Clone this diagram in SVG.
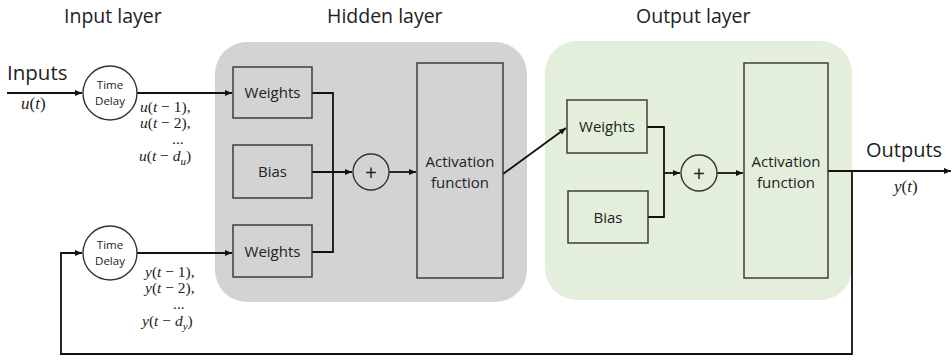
<svg xmlns="http://www.w3.org/2000/svg" width="952" height="363" viewBox="0 0 952 363">
<style>
.t{font-family:"Open Sans","Liberation Sans",sans-serif;fill:#222}
.title{font-size:19.5px}
.lbl{font-size:15px;text-anchor:middle}
.plus{font-size:21px;text-anchor:middle}
.sm{font-size:11.5px;text-anchor:middle}
.m{font-family:"Liberation Serif","DejaVu Serif",serif;font-size:15.5px;fill:#222}
.i{font-style:italic}
.box{fill:none;stroke:#333;stroke-width:1.4}
.ln{fill:none;stroke:#111;stroke-width:1.8}
</style>
<defs>
<marker id="ah" markerWidth="8" markerHeight="8" refX="7" refY="4" orient="auto" markerUnits="userSpaceOnUse">
<path d="M0,1 L7,4 L0,7 Z" fill="#111"/>
</marker>
</defs>
<rect width="952" height="363" fill="#fff"/>
<g id="titles">
<text class="t title" x="64" y="23">Input layer</text>
<text class="t title" x="327" y="23">Hidden layer</text>
<text class="t title" x="636" y="23">Output layer</text>
</g>
<g id="hidden-panel"><rect x="215" y="42" width="312" height="260" rx="32" fill="#d3d3d3"/></g>
<g id="output-panel"><rect x="545" y="41" width="307" height="259" rx="32" fill="#e3eedb"/></g>
<g id="connectors">
<path class="ln" d="M7,93 H82" marker-end="url(#ah)"/>
<path class="ln" d="M137,93 H232" marker-end="url(#ah)"/>
<path class="ln" d="M137,253 H232" marker-end="url(#ah)"/>
<path class="ln" d="M312,93 H333 V252 H312"/>
<path class="ln" d="M312,172 H352" marker-end="url(#ah)"/>
<path class="ln" d="M389,172 H416" marker-end="url(#ah)"/>
<path class="ln" d="M503,174 L566,128" marker-end="url(#ah)"/>
<path class="ln" d="M647,127 H664 V217 H648"/>
<path class="ln" d="M664,173 H680" marker-end="url(#ah)"/>
<path class="ln" d="M717,173 H743" marker-end="url(#ah)"/>
<path class="ln" d="M828,171 H951" marker-end="url(#ah)"/>
<path class="ln" d="M852,171 V354 H61 V253 H82" marker-end="url(#ah)"/>
</g>
<g id="inputs-label">
<text class="t" x="7" y="80" font-size="20.5">Inputs</text>
<text class="m" x="21" y="109" style="font-size:17px"><tspan class="i">u</tspan>(<tspan class="i">t</tspan>)</text>
</g>
<g id="time-delay-1">
<circle cx="110" cy="93" r="27" fill="#fff" stroke="#333" stroke-width="1.4"/>
<text class="t sm" x="110" y="89">Time</text>
<text class="t sm" x="110" y="105">Delay</text>
</g>
<g id="u-labels">
<text class="m" x="140" y="112"><tspan class="i">u</tspan>(<tspan class="i">t</tspan> − 1),</text>
<text class="m" x="140" y="128"><tspan class="i">u</tspan>(<tspan class="i">t</tspan> − 2),</text>
<text class="m" x="172" y="144">...</text>
<text class="m" x="139" y="161"><tspan class="i">u</tspan>(<tspan class="i">t</tspan> − <tspan class="i">d</tspan><tspan class="i" font-size="11" dy="4">u</tspan><tspan dy="-4">)</tspan></text>
</g>
<g id="time-delay-2">
<circle cx="110" cy="253" r="27" fill="#fff" stroke="#333" stroke-width="1.4"/>
<text class="t sm" x="110" y="249">Time</text>
<text class="t sm" x="110" y="265">Delay</text>
</g>
<g id="y-labels">
<text class="m" x="145" y="277"><tspan class="i">y</tspan>(<tspan class="i">t</tspan> − 1),</text>
<text class="m" x="145" y="293"><tspan class="i">y</tspan>(<tspan class="i">t</tspan> − 2),</text>
<text class="m" x="173" y="309">...</text>
<text class="m" x="142" y="326"><tspan class="i">y</tspan>(<tspan class="i">t</tspan> − <tspan class="i">d</tspan><tspan class="i" font-size="11" dy="4">y</tspan><tspan dy="-4">)</tspan></text>
</g>
<g id="h-weights-1"><rect class="box" x="233" y="67" width="79" height="51"/><text class="t lbl" x="272.5" y="98">Weights</text></g>
<g id="h-bias"><rect class="box" x="233" y="145" width="79" height="53"/><text class="t lbl" x="272.5" y="177">Bias</text></g>
<g id="h-weights-2"><rect class="box" x="233" y="225" width="79" height="52"/><text class="t lbl" x="272.5" y="257">Weights</text></g>
<g id="h-sum"><circle cx="371" cy="172" r="18" fill="none" stroke="#333" stroke-width="1.4"/><text class="t plus" x="371" y="179.5">+</text></g>
<g id="h-activation"><rect class="box" x="417" y="63" width="86" height="215"/><text class="t lbl" x="460" y="167">Activation</text><text class="t lbl" x="460" y="188">function</text></g>
<g id="o-weights"><rect class="box" x="567" y="100" width="80" height="53"/><text class="t lbl" x="607" y="132">Weights</text></g>
<g id="o-bias"><rect class="box" x="568" y="191" width="80" height="52"/><text class="t lbl" x="608" y="223">Bias</text></g>
<g id="o-sum"><circle cx="699" cy="173" r="18" fill="none" stroke="#333" stroke-width="1.4"/><text class="t plus" x="699" y="180.5">+</text></g>
<g id="o-activation"><rect class="box" x="744" y="63" width="84" height="215"/><text class="t lbl" x="786" y="167">Activation</text><text class="t lbl" x="786" y="188">function</text></g>
<g id="outputs-label">
<text class="t" x="866" y="157" font-size="20">Outputs</text>
<text class="m" x="894" y="192" style="font-size:17px"><tspan class="i">y</tspan>(<tspan class="i">t</tspan>)</text>
</g>
</svg>
